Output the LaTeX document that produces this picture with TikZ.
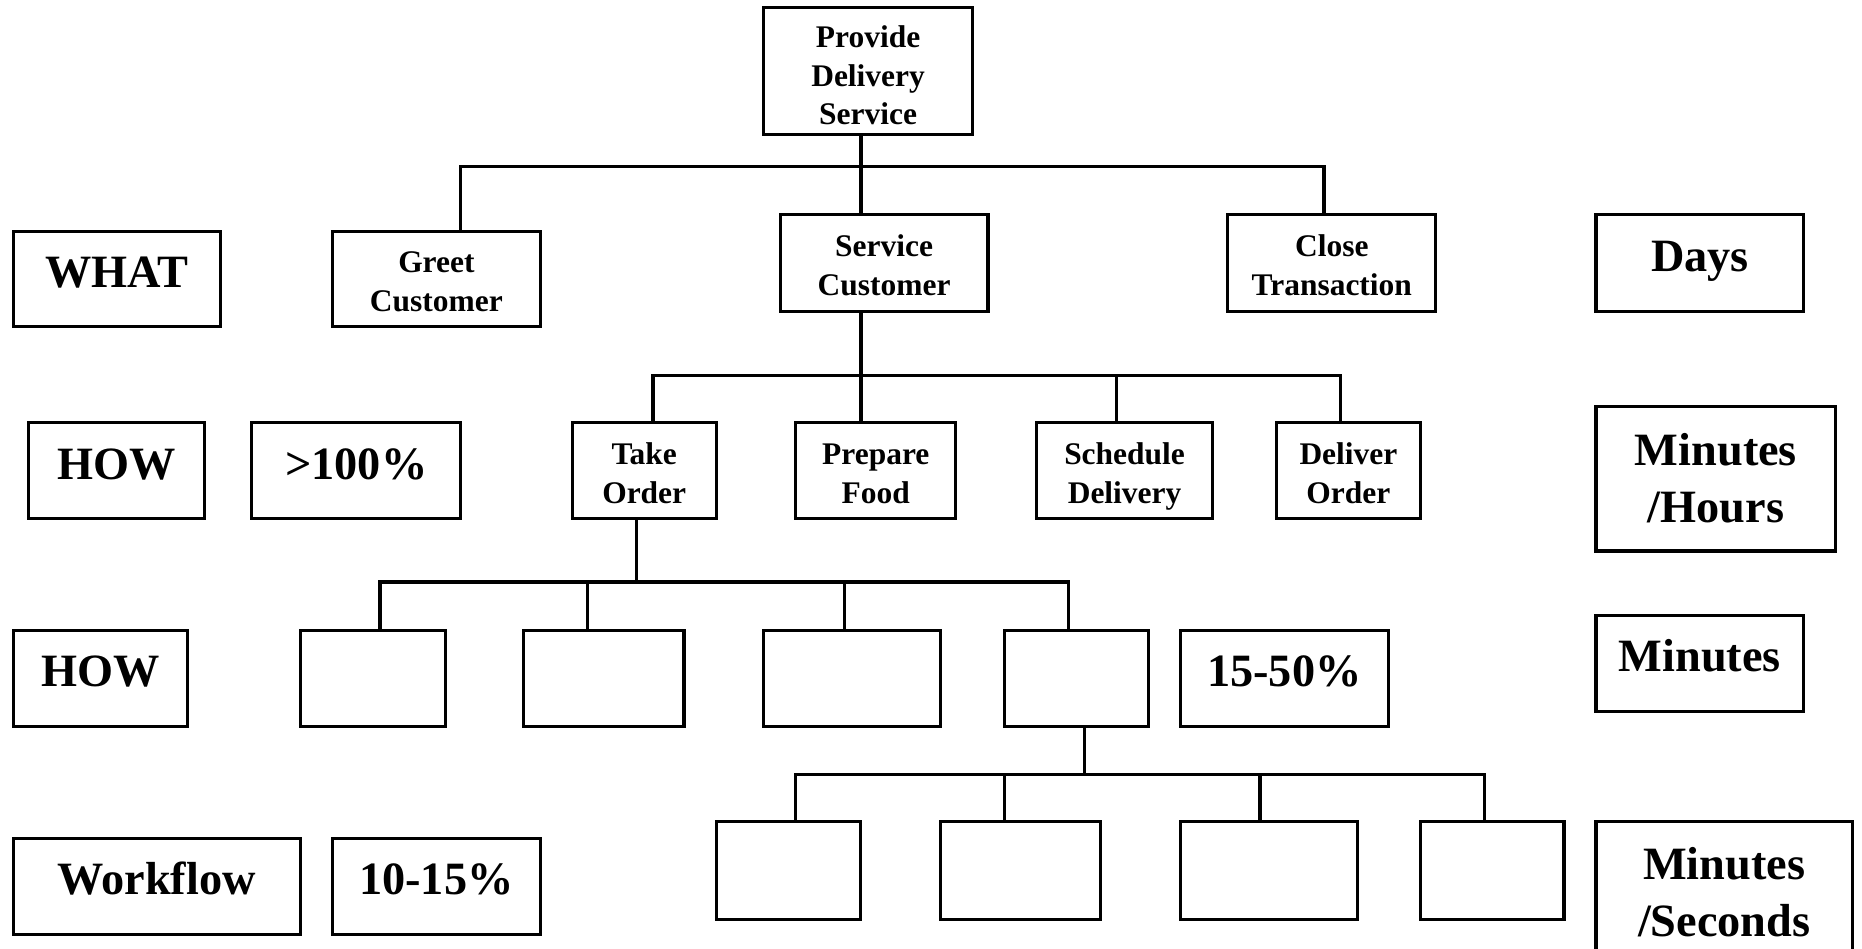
\documentclass[tikz,border=0pt]{standalone}
\usepackage{fontspec}
\setmainfont{Liberation Serif}
\begin{document}
\begin{tikzpicture}[x=1pt,y=-1pt,
  frame/.style={draw=black,line width=2.6pt,fill=white,inner sep=0pt,align=center},
  box/.style={frame,text height=62.5pt,text depth=8pt,
    font=\bfseries\fontsize{26.5}{32.5}\selectfont},
  bigbox/.style={frame,font=\bfseries\fontsize{39}{48}\selectfont},
  oneline/.style={bigbox,text height=28pt,text depth=14pt},
  link/.style={line width=2.8pt,line cap=rect}]
\useasboundingbox (0,0) rectangle (1568,799);

% level 0
\node[box,text height=99pt,minimum width=176pt,minimum height=107pt] (top) at (731,59.5) {Provide\\Delivery\\Service};

% WHAT row
\node[oneline,minimum width=175pt,minimum height=80pt] (what) at (98.5,235) {WHAT};
\node[box,minimum width=175pt,minimum height=80pt] (greet) at (367.5,235) {Greet\\Customer};
\node[box,minimum width=175pt,minimum height=81pt] (svc) at (744.5,221.5) {Service\\Customer};
\node[box,minimum width=175pt,minimum height=81pt] (close) at (1121.5,221.5) {Close\\Transaction};
\node[oneline,minimum width=175pt,minimum height=81pt] (days) at (1431.5,221.5) {Days};

% first HOW row
\node[oneline,minimum width=148pt,minimum height=81pt] (how1) at (98,396.5) {HOW};
\node[oneline,minimum width=176pt,minimum height=81pt] (pctA) at (300,396.5) {>100\%};
\node[box,minimum width=121pt,minimum height=81pt] (take) at (542.5,396.5) {Take\\Order};
\node[box,minimum width=135pt,minimum height=81pt] (prep) at (737.5,396.5) {Prepare\\Food};
\node[box,minimum width=148pt,minimum height=81pt] (sched) at (947,396.5) {Schedule\\Delivery};
\node[box,minimum width=121pt,minimum height=81pt] (deliv) at (1135.5,396.5) {Deliver\\Order};
\node[bigbox,minimum width=202pt,minimum height=122pt] (minhr) at (1445,403) {Minutes\\/Hours};

% second HOW row
\node[oneline,minimum width=147pt,minimum height=81pt] (how2) at (84.5,571.5) {HOW};
\node[frame,minimum width=122pt,minimum height=81pt] (ta) at (314,571.5) {};
\node[frame,minimum width=135pt,minimum height=81pt] (tb) at (508.5,571.5) {};
\node[frame,minimum width=149pt,minimum height=81pt] (tc) at (717.5,571.5) {};
\node[frame,minimum width=121pt,minimum height=81pt] (td) at (906.5,571.5) {};
\node[oneline,minimum width=175pt,minimum height=81pt] (pctB) at (1081.5,571.5) {15-50\%};
\node[oneline,minimum width=175pt,minimum height=81pt] (mins) at (1431.5,558.5) {Minutes};

% workflow row
\node[oneline,minimum width=242pt,minimum height=81pt] (wf) at (132,746.5) {Workflow};
\node[oneline,minimum width=175pt,minimum height=81pt] (pctC) at (367.5,746.5) {10-15\%};
\node[frame,minimum width=122pt,minimum height=82pt] (wa) at (664,733) {};
\node[frame,minimum width=135pt,minimum height=82pt] (wb) at (859.5,733) {};
\node[frame,minimum width=149pt,minimum height=82pt] (wc) at (1068.5,733) {};
\node[frame,minimum width=121pt,minimum height=82pt] (wd) at (1256.5,733) {};
\node[bigbox,minimum width=216pt,minimum height=118pt] (minsec) at (1452,751) {Minutes\\/Seconds};

% bus coordinates
\coordinate (a1) at (388,140);  \coordinate (a2) at (725,140);  \coordinate (a3) at (1115,140);
\coordinate (b1) at (550,316);  \coordinate (b2) at (725,316);  \coordinate (b3) at (940,316);  \coordinate (b4) at (1129,316);
\coordinate (c0) at (536,490);
\coordinate (c1) at (320,490);  \coordinate (c2) at (495,490);  \coordinate (c3) at (711,490);  \coordinate (c4) at (900,490);
\coordinate (d0) at (913,652);
\coordinate (d1) at (670,652);  \coordinate (d2) at (846,652);  \coordinate (d3) at (1061,652); \coordinate (d4) at (1250,652);

% tree 1
\draw[link] (a1) -- (a3);
\draw[link] (a2 |- top.south) -- (a2 |- svc.north);
\draw[link] (a1) -- (a1 |- greet.north);
\draw[link] (a3) -- (a3 |- close.north);

% tree 2
\draw[link] (b1) -- (b4);
\draw[link] (b2 |- svc.south) -- (b2 |- prep.north);
\draw[link] (b1) -- (b1 |- take.north);
\draw[link] (b3) -- (b3 |- sched.north);
\draw[link] (b4) -- (b4 |- deliv.north);

% tree 3
\draw[link] (c1) -- (c4);
\draw[link] (c0 |- take.south) -- (c0);
\draw[link] (c1) -- (c1 |- ta.north);
\draw[link] (c2) -- (c2 |- tb.north);
\draw[link] (c3) -- (c3 |- tc.north);
\draw[link] (c4) -- (c4 |- td.north);

% tree 4
\draw[link] (d1) -- (d4);
\draw[link] (d0 |- td.south) -- (d0);
\draw[link] (d1) -- (d1 |- wa.north);
\draw[link] (d2) -- (d2 |- wb.north);
\draw[link] (d3) -- (d3 |- wc.north);
\draw[link] (d4) -- (d4 |- wd.north);
\end{tikzpicture}
\end{document}
